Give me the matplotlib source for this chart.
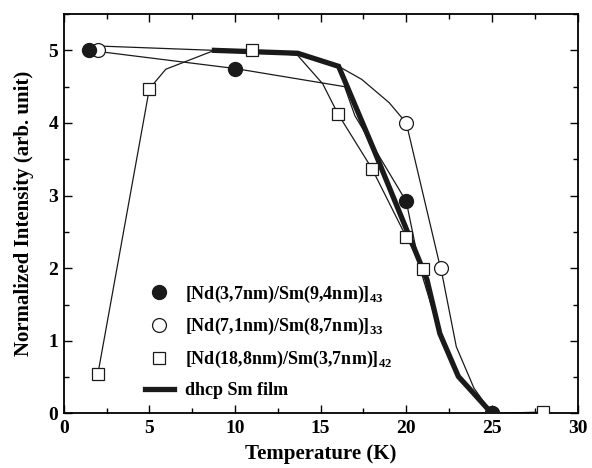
import numpy as np
import matplotlib
matplotlib.use("Agg")
import matplotlib.pyplot as plt
from matplotlib.lines import Line2D
from matplotlib.ticker import MultipleLocator

plt.rcParams['font.family'] = ['Liberation Serif', 'DejaVu Serif']
plt.rcParams['font.weight'] = 'bold'
plt.rcParams['mathtext.fontset'] = 'custom'
plt.rcParams['mathtext.rm'] = 'Liberation Serif:bold'

# measured points (markers)
t_nd37 = [1.5, 10, 20, 25]
i_nd37 = [5.0, 4.75, 2.92, 0.0]
t_nd71 = [2, 20, 22, 25]
i_nd71 = [5.0, 4.0, 2.0, 0.0]
t_nd188 = [2, 5, 11, 16, 18, 20, 21, 28]
i_nd188 = [0.55, 4.47, 5.0, 4.13, 3.37, 2.43, 1.99, 0.02]

# connecting curves as drawn in the picture
cx_nd37 = [1.5, 10, 16.4, 17.0, 20, 20.8, 21.96, 23.04, 25]
cy_nd37 = [5.0, 4.75, 4.50, 4.1, 2.92, 2.0, 1.10, 0.51, 0.0]
cx_nd71 = [2, 8.8, 13.66, 16.05, 17.4, 19.0, 20, 22, 22.08, 22.92, 23.95, 25]
cy_nd71 = [5.06, 5.0, 4.96, 4.78, 4.6, 4.28, 4.0, 2.0, 1.93, 0.92, 0.35, 0.0]
cx_nd188 = [2, 5, 5.96, 8.8, 11, 13.66, 15.12, 16, 18, 20, 21, 21.96, 23.04, 25, 28]
cy_nd188 = [0.55, 4.47, 4.74, 5.0, 5.0, 4.93, 4.54, 4.13, 3.37, 2.43, 1.99, 1.10, 0.51, 0.0, 0.02]
cx_film = [8.8, 13.66, 16.05, 18.13, 21.2, 21.96, 23.04, 25]
cy_film = [5.0, 4.96, 4.78, 3.62, 1.85, 1.10, 0.51, 0.0]

labels = ["[Nd(3,7nm)/Sm(9,4nm)]$_{43}$",
          "[Nd(7,1nm)/Sm(8,7nm)]$_{33}$",
          "[Nd(18,8nm)/Sm(3,7nm)]$_{42}$",
          "dhcp Sm film"]

fig = plt.figure(figsize=(5.92, 4.68), dpi=100)
ax = fig.add_axes([0.1076, 0.1165, 0.868, 0.8535])

ax.plot(cx_nd37, cy_nd37, color='#1a1a1a', lw=0.9, zorder=2)
ax.plot(cx_nd71, cy_nd71, color='#1a1a1a', lw=0.9, zorder=2)
ax.plot(cx_nd188, cy_nd188, color='#1a1a1a', lw=0.9, zorder=2)
ax.plot(cx_film, cy_film, color='#1a1a1a', lw=3.8, zorder=3, solid_joinstyle='miter')

ax.plot(t_nd188, i_nd188, ls='none', marker='s', ms=9, mfc='white', mec='#1a1a1a', mew=0.9, zorder=4)
ax.plot(t_nd71, i_nd71, ls='none', marker='o', ms=10, mfc='white', mec='#1a1a1a', mew=0.9, zorder=4)
ax.plot(t_nd37, i_nd37, ls='none', marker='o', ms=10, mfc='#1a1a1a', mec='#1a1a1a', zorder=5)

ax.set_xlim(0, 30)
ax.set_ylim(0, 5.5)
ax.xaxis.set_major_locator(MultipleLocator(5))
ax.xaxis.set_minor_locator(MultipleLocator(2.5))
ax.yaxis.set_major_locator(MultipleLocator(1))
ax.yaxis.set_minor_locator(MultipleLocator(0.5))
ax.tick_params(which='both', direction='in', top=True, right=True, labelsize=14)
ax.tick_params(axis='x', pad=5)
ax.tick_params(axis='y', pad=4)
ax.tick_params(which='major', length=6, width=1)
ax.tick_params(which='minor', length=3.5, width=1)
for s in ax.spines.values():
    s.set_linewidth(1.3)

ax.set_xlabel("Temperature (K)", fontsize=15, fontweight='bold', labelpad=5)
ax.set_ylabel("Normalized Intensity (arb. unit)", fontsize=15, fontweight='bold', labelpad=10)

handles = [
    Line2D([], [], ls='none', marker='o', ms=10, mfc='#1a1a1a', mec='#1a1a1a'),
    Line2D([], [], ls='none', marker='o', ms=10, mfc='white', mec='#1a1a1a', mew=0.9),
    Line2D([], [], ls='none', marker='s', ms=9, mfc='white', mec='#1a1a1a', mew=0.9),
    Line2D([], [], color='#1a1a1a', lw=3.8),
]
ax.legend(handles, labels, loc='lower left', bbox_to_anchor=(0.13, 0.0),
          frameon=False, fontsize=13, handlelength=1.6, handletextpad=0.6,
          labelspacing=0.65, borderaxespad=0.4)

fig.savefig("out.png", dpi=100)
